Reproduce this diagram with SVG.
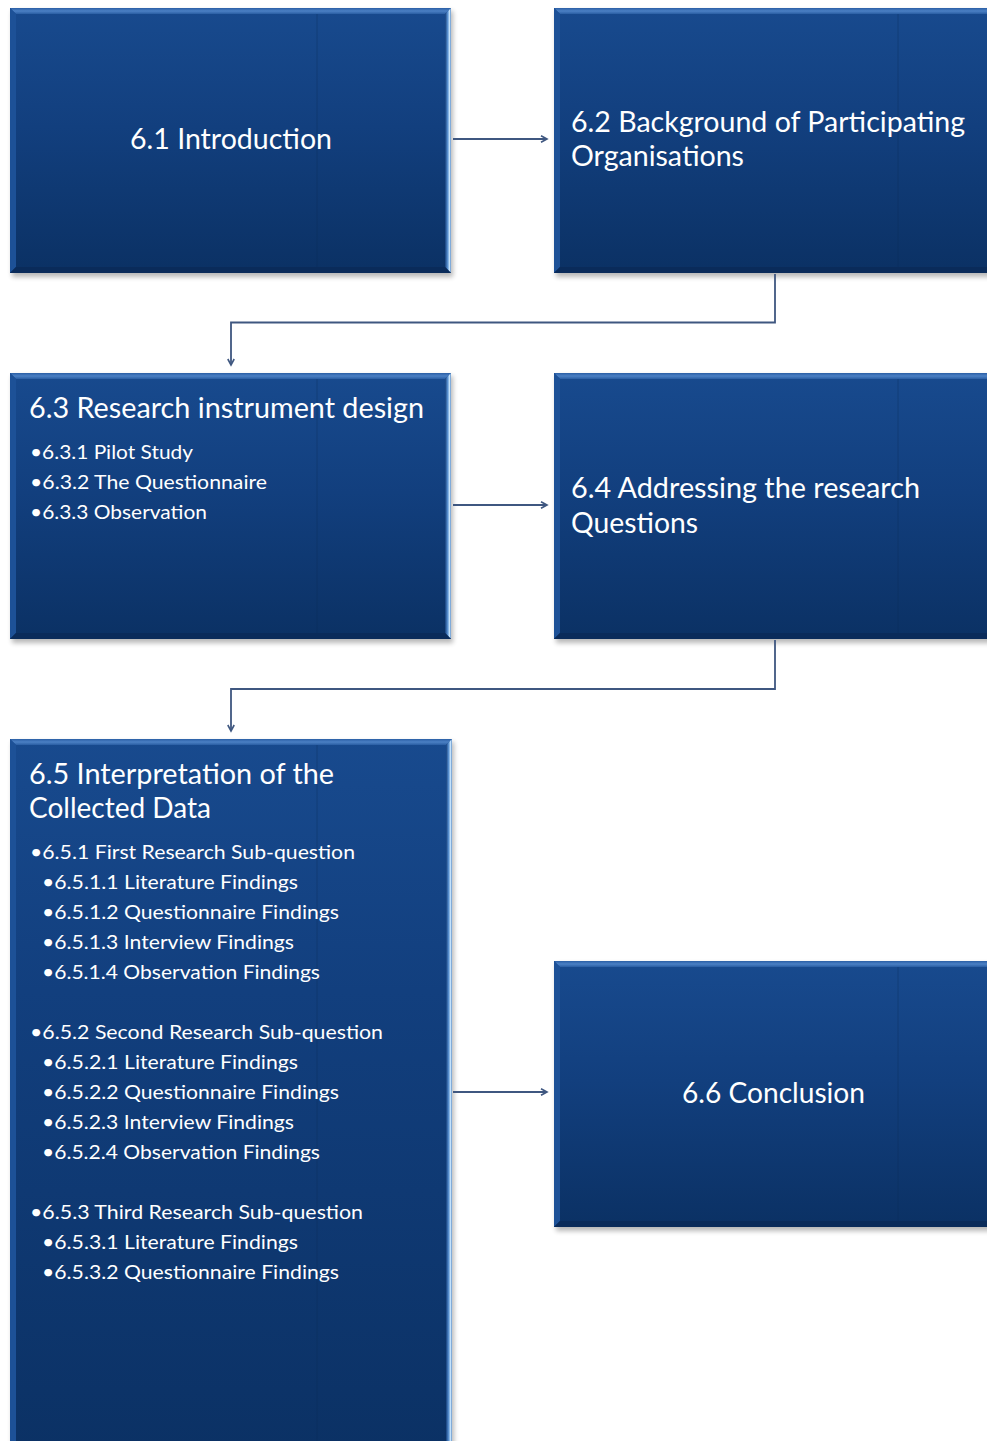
<svg xmlns="http://www.w3.org/2000/svg" width="987" height="1441" viewBox="0 0 987 1441">
<defs>
<linearGradient id="body" x1="0" y1="0" x2="0" y2="1">
<stop offset="0" stop-color="#184a8e"/>
<stop offset="0.45" stop-color="#123f7e"/>
<stop offset="1" stop-color="#0b3164"/>
</linearGradient>
<linearGradient id="bodyTall" x1="0" y1="0" x2="0" y2="1">
<stop offset="0" stop-color="#184a8e"/>
<stop offset="0.35" stop-color="#123f7e"/>
<stop offset="1" stop-color="#0b3164"/>
</linearGradient>
<linearGradient id="topBev" x1="0" y1="0" x2="0" y2="1">
<stop offset="0" stop-color="#2a5ea5"/>
<stop offset="0.5" stop-color="#4b80c4"/>
<stop offset="1" stop-color="#2a5ea3"/>
</linearGradient>
<linearGradient id="rightBev" x1="0" y1="0" x2="1" y2="0">
<stop offset="0" stop-color="#143f7c"/>
<stop offset="0.45" stop-color="#5a92d2"/>
<stop offset="0.75" stop-color="#c4e2fb"/>
<stop offset="1" stop-color="#5f90c8"/>
</linearGradient>
<filter id="shadow" x="-5%" y="-5%" width="110%" height="115%">
<feGaussianBlur stdDeviation="2.5"/>
</filter>
<marker id="arrow" markerUnits="userSpaceOnUse" markerWidth="10" markerHeight="10" refX="7" refY="4" orient="auto">
<path d="M1,0.8 L7,4 L1,7.2" fill="none" stroke="#3f5780" stroke-width="1.6"/>
</marker>
<style>
.sh{fill:#000;opacity:0.28;filter:url(#shadow)}
.bd{fill:url(#body)}
.bdt{fill:url(#bodyTall)}
.tb{fill:url(#topBev)}
.lb{fill:#1d5197}
.rb{fill:url(#rightBev)}
.bb{fill:#0a2b5a}
.seam{stroke:#0a2a55;stroke-width:1;opacity:0.35}
text{font-family:Lato,"Liberation Sans",sans-serif;fill:#ffffff}
.t{font-size:28px}
.b{font-size:20px}
.cn{fill:none;stroke:#3f5780;stroke-width:1.8}
</style>
</defs>
<rect width="987" height="1441" fill="#ffffff"/>

<g id="node-6-1">
<rect class="sh" x="12" y="11" width="441" height="266"/>
<rect class="bd" x="10" y="8" width="441" height="265"/>
<line class="seam" x1="317" y1="14" x2="317" y2="267"/>
<polygon class="tb" points="10,8 451,8 445,14 16,14"/>
<polygon class="lb" points="10,8 16,14 16,267 10,273"/>
<polygon class="rb" points="451,8 451,273 445,267 445,14"/>
<polygon class="bb" points="10,273 451,273 445,267 16,267"/>
<text class="t" x="130" y="149" textLength="202" lengthAdjust="spacingAndGlyphs">6.1 Introduction</text>
</g>

<g id="node-6-2">
<rect class="sh" x="556" y="11" width="440" height="266"/>
<rect class="bd" x="554" y="8" width="440" height="265"/>
<line class="seam" x1="898" y1="14" x2="898" y2="267"/>
<polygon class="tb" points="554,8 994,8 988,14 560,14"/>
<polygon class="lb" points="554,8 560,14 560,267 554,273"/>
<polygon class="bb" points="554,273 994,273 988,267 560,267"/>
<text class="t" x="571" y="132" textLength="394" lengthAdjust="spacingAndGlyphs">6.2 Background of Participating</text>
<text class="t" x="571" y="166" textLength="173" lengthAdjust="spacingAndGlyphs">Organisations</text>
</g>

<g id="node-6-3">
<rect class="sh" x="12" y="376" width="441" height="267"/>
<rect class="bd" x="10" y="373" width="441" height="266"/>
<line class="seam" x1="317" y1="379" x2="317" y2="633"/>
<polygon class="tb" points="10,373 451,373 445,379 16,379"/>
<polygon class="lb" points="10,373 16,379 16,633 10,639"/>
<polygon class="rb" points="451,373 451,639 445,633 445,379"/>
<polygon class="bb" points="10,639 451,639 445,633 16,633"/>
<text class="t" x="29" y="418" textLength="395" lengthAdjust="spacingAndGlyphs">6.3 Research instrument design</text>
<text class="b" x="30" y="459" textLength="163" lengthAdjust="spacingAndGlyphs">•6.3.1 Pilot Study</text>
<text class="b" x="30" y="489" textLength="237" lengthAdjust="spacingAndGlyphs">•6.3.2 The Questionnaire</text>
<text class="b" x="30" y="519" textLength="177" lengthAdjust="spacingAndGlyphs">•6.3.3 Observation</text>
</g>

<g id="node-6-4">
<rect class="sh" x="556" y="376" width="440" height="267"/>
<rect class="bd" x="554" y="373" width="440" height="266"/>
<line class="seam" x1="898" y1="379" x2="898" y2="633"/>
<polygon class="tb" points="554,373 994,373 988,379 560,379"/>
<polygon class="lb" points="554,373 560,379 560,633 554,639"/>
<polygon class="bb" points="554,639 994,639 988,633 560,633"/>
<text class="t" x="571" y="498" textLength="349" lengthAdjust="spacingAndGlyphs">6.4 Addressing the research</text>
<text class="t" x="571" y="533" textLength="127" lengthAdjust="spacingAndGlyphs">Questions</text>
</g>

<g id="node-6-5">
<rect class="sh" x="12" y="742" width="442" height="720"/>
<rect class="bdt" x="10" y="739" width="442" height="720"/>
<line class="seam" x1="317" y1="745" x2="317" y2="1441"/>
<polygon class="tb" points="10,739 452,739 446,745 16,745"/>
<polygon class="lb" points="10,739 16,745 16,1454 10,1460"/>
<polygon class="rb" points="452,739 452,1460 446,1454 446,745"/>
<text class="t" x="29" y="784" textLength="305" lengthAdjust="spacingAndGlyphs">6.5 Interpretation of the</text>
<text class="t" x="29" y="818" textLength="182" lengthAdjust="spacingAndGlyphs">Collected Data</text>
<text class="b" x="30" y="859" textLength="325" lengthAdjust="spacingAndGlyphs">•6.5.1 First Research Sub-question</text>
<text class="b" x="42" y="889" textLength="256" lengthAdjust="spacingAndGlyphs">•6.5.1.1 Literature Findings</text>
<text class="b" x="42" y="919" textLength="297" lengthAdjust="spacingAndGlyphs">•6.5.1.2 Questionnaire Findings</text>
<text class="b" x="42" y="949" textLength="252" lengthAdjust="spacingAndGlyphs">•6.5.1.3 Interview Findings</text>
<text class="b" x="42" y="979" textLength="278" lengthAdjust="spacingAndGlyphs">•6.5.1.4 Observation Findings</text>
<text class="b" x="30" y="1039" textLength="353" lengthAdjust="spacingAndGlyphs">•6.5.2 Second Research Sub-question</text>
<text class="b" x="42" y="1069" textLength="256" lengthAdjust="spacingAndGlyphs">•6.5.2.1 Literature Findings</text>
<text class="b" x="42" y="1099" textLength="297" lengthAdjust="spacingAndGlyphs">•6.5.2.2 Questionnaire Findings</text>
<text class="b" x="42" y="1129" textLength="252" lengthAdjust="spacingAndGlyphs">•6.5.2.3 Interview Findings</text>
<text class="b" x="42" y="1159" textLength="278" lengthAdjust="spacingAndGlyphs">•6.5.2.4 Observation Findings</text>
<text class="b" x="30" y="1219" textLength="333" lengthAdjust="spacingAndGlyphs">•6.5.3 Third Research Sub-question</text>
<text class="b" x="42" y="1249" textLength="256" lengthAdjust="spacingAndGlyphs">•6.5.3.1 Literature Findings</text>
<text class="b" x="42" y="1279" textLength="297" lengthAdjust="spacingAndGlyphs">•6.5.3.2 Questionnaire Findings</text>
</g>

<g id="node-6-6">
<rect class="sh" x="556" y="964" width="440" height="267"/>
<rect class="bd" x="554" y="961" width="440" height="266"/>
<line class="seam" x1="898" y1="967" x2="898" y2="1221"/>
<polygon class="tb" points="554,961 994,961 988,967 560,967"/>
<polygon class="lb" points="554,961 560,967 560,1221 554,1227"/>
<polygon class="bb" points="554,1227 994,1227 988,1221 560,1221"/>
<text class="t" x="682" y="1103" textLength="183" lengthAdjust="spacingAndGlyphs">6.6 Conclusion</text>
</g>

<g id="connectors">
<path class="cn" d="M453,139 H547" marker-end="url(#arrow)"/>
<path class="cn" d="M775,274 V322.5 H231 V365" marker-end="url(#arrow)"/>
<path class="cn" d="M453,505 H547" marker-end="url(#arrow)"/>
<path class="cn" d="M775,640 V689 H231 V731" marker-end="url(#arrow)"/>
<path class="cn" d="M453,1092 H547" marker-end="url(#arrow)"/>
</g>
</svg>
